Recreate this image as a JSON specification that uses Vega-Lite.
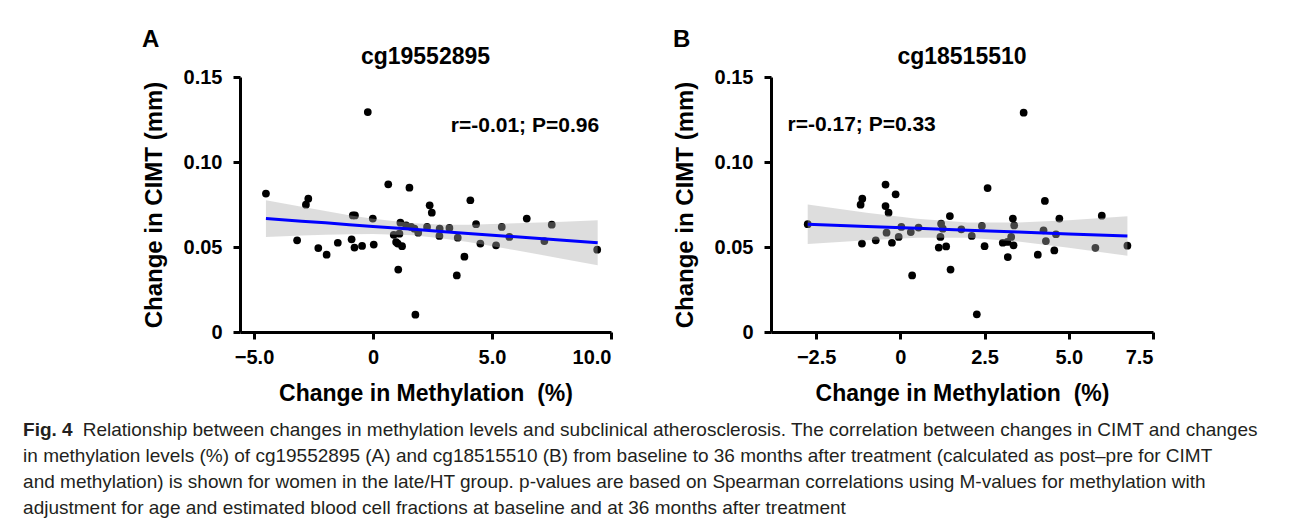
{
  "$schema": "https://vega.github.io/schema/vega-lite/v6.json",
  "padding": {"left": 23, "top": 28, "right": 5, "bottom": 5},
  "background": "white",
  "config": {
    "view": {"stroke": null},
    "font": "Liberation Sans",
    "axis": {
      "domainColor": "black", "domainWidth": 3, "tickColor": "black", "tickWidth": 3, "tickSize": 7,
      "grid": false, "labelFont": "Liberation Sans", "labelFontWeight": "bold", "labelFontSize": 20,
      "labelColor": "black", "titleFont": "Liberation Sans", "titleFontWeight": "bold", "titleFontSize": 23,
      "titleColor": "black"
    },
    "title": {"font": "Liberation Sans", "fontWeight": "bold", "color": "black"}
  },
  "datasets": {
    "ptsA": [
      {"x": -4.50, "y": 0.0814}, {"x": -3.19, "y": 0.0539}, {"x": -2.82, "y": 0.0749}, {"x": -2.72, "y": 0.0784},
      {"x": -2.30, "y": 0.0494}, {"x": -1.95, "y": 0.0455}, {"x": -1.48, "y": 0.0525}, {"x": -0.85, "y": 0.0686},
      {"x": -0.76, "y": 0.0686}, {"x": -0.90, "y": 0.0545}, {"x": -0.78, "y": 0.0497}, {"x": -0.46, "y": 0.0506},
      {"x": -0.22, "y": 0.1294}, {"x": -0.01, "y": 0.0667}, {"x": 0.03, "y": 0.0514}, {"x": 0.64, "y": 0.0869},
      {"x": 1.53, "y": 0.0849}, {"x": 1.15, "y": 0.0643}, {"x": 1.39, "y": 0.0627}, {"x": 1.60, "y": 0.0618},
      {"x": 0.87, "y": 0.0572}, {"x": 1.11, "y": 0.0578}, {"x": 0.97, "y": 0.0529}, {"x": 1.22, "y": 0.0505},
      {"x": 1.04, "y": 0.0520}, {"x": 1.90, "y": 0.0584}, {"x": 1.74, "y": 0.0608}, {"x": 2.27, "y": 0.0618},
      {"x": 2.38, "y": 0.0745}, {"x": 2.47, "y": 0.0702}, {"x": 2.80, "y": 0.0608}, {"x": 3.21, "y": 0.0612},
      {"x": 2.79, "y": 0.0565}, {"x": 3.56, "y": 0.0555}, {"x": 4.09, "y": 0.0775}, {"x": 4.33, "y": 0.0634},
      {"x": 4.51, "y": 0.0520}, {"x": 5.17, "y": 0.0510}, {"x": 5.41, "y": 0.0618}, {"x": 5.73, "y": 0.0559},
      {"x": 6.46, "y": 0.0667}, {"x": 7.20, "y": 0.0535}, {"x": 7.51, "y": 0.0631}, {"x": 9.42, "y": 0.0484},
      {"x": 1.06, "y": 0.0367}, {"x": 1.78, "y": 0.0102}, {"x": 3.52, "y": 0.0333}, {"x": 3.84, "y": 0.0443}
    ],
    "bandA": [
      {"x": -4.5, "lo": 0.0559, "hi": 0.0775, "fit": 0.0667},
      {"x": -3, "lo": 0.0567, "hi": 0.0737, "fit": 0.0652},
      {"x": -2, "lo": 0.0572, "hi": 0.0712, "fit": 0.0642},
      {"x": -1, "lo": 0.0575, "hi": 0.0687, "fit": 0.0631},
      {"x": 0, "lo": 0.0577, "hi": 0.0666, "fit": 0.0621},
      {"x": 1.7, "lo": 0.0569, "hi": 0.0639, "fit": 0.0604},
      {"x": 3, "lo": 0.0549, "hi": 0.0631, "fit": 0.0590},
      {"x": 4, "lo": 0.0529, "hi": 0.0631, "fit": 0.0580},
      {"x": 6, "lo": 0.0481, "hi": 0.0639, "fit": 0.0560},
      {"x": 8, "lo": 0.0430, "hi": 0.0648, "fit": 0.0540},
      {"x": 9.44, "lo": 0.0393, "hi": 0.0657, "fit": 0.0525}
    ],
    "annA": [{"x": 9.5, "y": 0.121, "label": "r=-0.01; P=0.96"}],
    "ptsB": [
      {"x": -2.75, "y": 0.0634}, {"x": -1.18, "y": 0.0749}, {"x": -1.13, "y": 0.0784}, {"x": -1.14, "y": 0.0520},
      {"x": -0.73, "y": 0.0539}, {"x": -0.44, "y": 0.0867}, {"x": -0.44, "y": 0.0741}, {"x": -0.35, "y": 0.0702},
      {"x": -0.41, "y": 0.0584}, {"x": -0.14, "y": 0.0810}, {"x": -0.25, "y": 0.0525}, {"x": -0.05, "y": 0.0559},
      {"x": 0.03, "y": 0.0618}, {"x": 0.31, "y": 0.0588}, {"x": 0.54, "y": 0.0614}, {"x": 0.35, "y": 0.0333},
      {"x": 1.21, "y": 0.0637}, {"x": 1.26, "y": 0.0608}, {"x": 1.47, "y": 0.0682}, {"x": 1.19, "y": 0.0559},
      {"x": 1.14, "y": 0.0497}, {"x": 1.36, "y": 0.0503}, {"x": 1.49, "y": 0.0367}, {"x": 1.81, "y": 0.0604},
      {"x": 2.12, "y": 0.0565}, {"x": 2.42, "y": 0.0624}, {"x": 2.50, "y": 0.0505}, {"x": 2.59, "y": 0.0847},
      {"x": 2.27, "y": 0.0104}, {"x": 3.66, "y": 0.1290}, {"x": 3.04, "y": 0.0525}, {"x": 3.19, "y": 0.0441},
      {"x": 3.34, "y": 0.0667}, {"x": 3.38, "y": 0.0627}, {"x": 3.29, "y": 0.0559}, {"x": 3.36, "y": 0.0510},
      {"x": 3.18, "y": 0.0530}, {"x": 4.08, "y": 0.0455}, {"x": 4.29, "y": 0.0771}, {"x": 4.25, "y": 0.0598},
      {"x": 4.32, "y": 0.0535}, {"x": 4.57, "y": 0.0480}, {"x": 4.62, "y": 0.0575}, {"x": 4.72, "y": 0.0667},
      {"x": 5.79, "y": 0.0495}, {"x": 5.98, "y": 0.0684}, {"x": 6.74, "y": 0.0508}
    ],
    "bandB": [
      {"x": -2.75, "lo": 0.0518, "hi": 0.0750, "fit": 0.0634},
      {"x": -1, "lo": 0.0540, "hi": 0.0702, "fit": 0.0621},
      {"x": 0.5, "lo": 0.0554, "hi": 0.0666, "fit": 0.0610},
      {"x": 2, "lo": 0.0554, "hi": 0.0644, "fit": 0.0599},
      {"x": 3.5, "lo": 0.0532, "hi": 0.0644, "fit": 0.0588},
      {"x": 5, "lo": 0.0496, "hi": 0.0658, "fit": 0.0577},
      {"x": 6.74, "lo": 0.0449, "hi": 0.0681, "fit": 0.0565}
    ],
    "annB": [{"x": -3.35, "y": 0.1216, "label": "r=-0.17; P=0.33"}]
  },
  "title": {
    "text": "Relationship between changes in methylation levels and subclinical atherosclerosis. The correlation between changes in CIMT and changes",
    "orient": "bottom", "anchor": "start", "frame": "bounds", "dx": 59.6, "offset": -97,
    "font": "Liberation Sans", "fontSize": 19, "fontWeight": "normal", "color": "#231f20", "lineHeight": 19
  },
  "vconcat": [
    {
      "title": {
        "text": "Fig. 4",
        "subtitle": [
          "in methylation levels (%) of cg19552895 (A) and cg18515510 (B) from baseline to 36 months after treatment (calculated as post\u2013pre for CIMT",
          "and methylation) is shown for women in the late/HT group. p-values are based on Spearman correlations using M-values for methylation with",
          "adjustment for age and estimated blood cell fractions at baseline and at 36 months after treatment"
        ],
        "orient": "bottom", "anchor": "start", "frame": "bounds", "dx": -119, "offset": 16,
        "font": "Liberation Sans", "fontSize": 19, "fontWeight": "bold", "color": "#231f20", "lineHeight": 19,
        "subtitleFont": "Liberation Sans", "subtitleFontSize": 19, "subtitleFontWeight": "normal",
        "subtitleColor": "#231f20", "subtitleLineHeight": 26, "subtitlePadding": 7
      },
      "spacing": 60,
      "hconcat": [
        {
          "title": {"text": "A", "anchor": "start", "frame": "bounds", "fontSize": 24, "offset": -6},
          "vconcat": [
            {
              "width": 371, "height": 255,
              "title": {"text": "cg19552895", "fontSize": 23, "offset": -2},
              "layer": [
                {
                  "data": {"name": "ptsA"},
                  "mark": {"type": "circle", "size": 60, "color": "black", "opacity": 1},
                  "encoding": {
                    "x": {"field": "x", "type": "quantitative", "title": "Change in Methylation\u00a0 (%)",
                      "scale": {"domain": [-5.59, 10], "nice": false, "zero": false},
                      "axis": {"values": [-5, 0, 5, 10], "labelExpr": "datum.value==0?'0':format(datum.value,'.1f')", "labelPadding": 8, "titlePadding": 15}},
                    "y": {"field": "y", "type": "quantitative", "title": "Change in CIMT (mm)",
                      "scale": {"domain": [0, 0.15], "nice": false},
                      "axis": {"values": [0, 0.05, 0.1, 0.15], "labelExpr": "datum.value==0?'0':format(datum.value,'.2f')", "labelPadding": 11, "titlePadding": 17, "titleFontSize": 24}}
                  }
                },
                {
                  "data": {"name": "bandA"},
                  "mark": {"type": "area", "color": "#aaaaaa", "opacity": 0.4},
                  "encoding": {
                    "x": {"field": "x", "type": "quantitative", "title": "Change in Methylation\u00a0 (%)"},
                    "y": {"field": "lo", "type": "quantitative", "title": "Change in CIMT (mm)"},
                    "y2": {"field": "hi"}
                  }
                },
                {
                  "data": {"name": "bandA"},
                  "mark": {"type": "line", "color": "#0000ff", "strokeWidth": 3},
                  "encoding": {
                    "x": {"field": "x", "type": "quantitative", "title": "Change in Methylation\u00a0 (%)"},
                    "y": {"field": "fit", "type": "quantitative", "title": "Change in CIMT (mm)"}
                  }
                },
                {
                  "data": {"name": "annA"},
                  "mark": {"type": "text", "align": "right", "baseline": "middle", "fontSize": 21, "fontWeight": "bold", "font": "Liberation Sans", "color": "black"},
                  "encoding": {
                    "x": {"field": "x", "type": "quantitative", "title": "Change in Methylation\u00a0 (%)"},
                    "y": {"field": "y", "type": "quantitative", "title": "Change in CIMT (mm)"},
                    "text": {"field": "label"}
                  }
                }
              ]
            }
          ]
        },
        {
          "title": {"text": "B", "anchor": "start", "frame": "bounds", "fontSize": 24, "offset": -6},
          "vconcat": [
            {
              "width": 382, "height": 255,
              "title": {"text": "cg18515510", "fontSize": 23, "offset": -2},
              "layer": [
                {
                  "data": {"name": "ptsB"},
                  "mark": {"type": "circle", "size": 60, "color": "black", "opacity": 1},
                  "encoding": {
                    "x": {"field": "x", "type": "quantitative", "title": "Change in Methylation\u00a0 (%)",
                      "scale": {"domain": [-3.84, 7.5], "nice": false, "zero": false},
                      "axis": {"values": [-2.5, 0, 2.5, 5, 7.5], "labelExpr": "datum.value==0?'0':format(datum.value,'.1f')", "labelPadding": 8, "titlePadding": 15}},
                    "y": {"field": "y", "type": "quantitative", "title": "Change in CIMT (mm)",
                      "scale": {"domain": [0, 0.15], "nice": false},
                      "axis": {"values": [0, 0.05, 0.1, 0.15], "labelExpr": "datum.value==0?'0':format(datum.value,'.2f')", "labelPadding": 11, "titlePadding": 17, "titleFontSize": 24}}
                  }
                },
                {
                  "data": {"name": "bandB"},
                  "mark": {"type": "area", "color": "#aaaaaa", "opacity": 0.4},
                  "encoding": {
                    "x": {"field": "x", "type": "quantitative", "title": "Change in Methylation\u00a0 (%)"},
                    "y": {"field": "lo", "type": "quantitative", "title": "Change in CIMT (mm)"},
                    "y2": {"field": "hi"}
                  }
                },
                {
                  "data": {"name": "bandB"},
                  "mark": {"type": "line", "color": "#0000ff", "strokeWidth": 3},
                  "encoding": {
                    "x": {"field": "x", "type": "quantitative", "title": "Change in Methylation\u00a0 (%)"},
                    "y": {"field": "fit", "type": "quantitative", "title": "Change in CIMT (mm)"}
                  }
                },
                {
                  "data": {"name": "annB"},
                  "mark": {"type": "text", "align": "left", "baseline": "middle", "fontSize": 21, "fontWeight": "bold", "font": "Liberation Sans", "color": "black"},
                  "encoding": {
                    "x": {"field": "x", "type": "quantitative", "title": "Change in Methylation\u00a0 (%)"},
                    "y": {"field": "y", "type": "quantitative", "title": "Change in CIMT (mm)"},
                    "text": {"field": "label"}
                  }
                }
              ]
            }
          ]
        }
      ]
    }
  ]
}
